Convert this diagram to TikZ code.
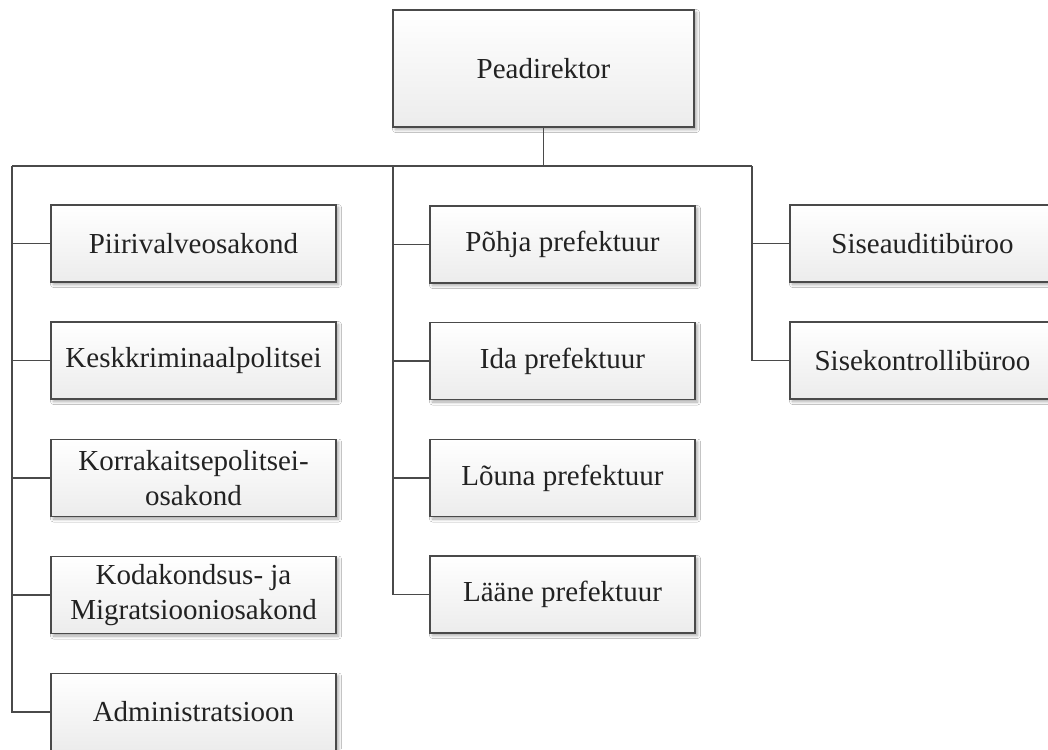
\documentclass[tikz,border=0pt]{standalone}
\usepackage{fontspec}
\setmainfont{Liberation Serif}
\usetikzlibrary{shadows.blur}
\definecolor{edge}{HTML}{4A4A4A}
\definecolor{boxlow}{HTML}{ECECEC}
\definecolor{ink}{HTML}{222222}
\tikzset{
  unit/.style={draw=edge, line width=1.4pt, top color=white, bottom color=boxlow,
    text=ink, font=\fontsize{29}{35}\selectfont, align=center,
    minimum height=77pt, inner sep=2pt,
    blur shadow={shadow xshift=2.5pt, shadow yshift=-2.5pt, shadow blur steps=6,
      shadow blur radius=3pt, shadow opacity=35}},
  leftunit/.style={unit, minimum width=285pt},
  midunit/.style={unit, minimum width=265pt},
  rightunit/.style={unit, minimum width=265pt},
  conn/.style={draw=edge, line width=1.4pt},
}
\begin{document}
\begin{tikzpicture}[x=1pt, y=-1pt]
\useasboundingbox (0,0) rectangle (1048,749);
\fill[white] (0,0) rectangle (1048,749);
\clip (0,0) rectangle (1048,749);

% head of the organisation
\node[unit, minimum width=301pt, minimum height=117pt] (pd) at (543.5,68.5) {Peadirektor};

% left column: departments
\node[leftunit] (piir) at (193.5,243.5) {Piirivalveosakond};
\node[leftunit] (kesk) at (193.5,360.5) {Keskkriminaalpolitsei};
\node[leftunit] (korr) at (193.5,478) {Korrakaitsepolitsei-\\osakond};
\node[leftunit] (koda) at (193.5,595) {Kodakondsus- ja\\Migratsiooniosakond};
\node[leftunit] (adm)  at (193.5,712) {Administratsioon};

% middle column: prefectures
\node[midunit] (pohja) at (562.5,244.5) {Põhja prefektuur};
\node[midunit] (ida)   at (562.5,361) {Ida prefektuur};
\node[midunit] (louna) at (562.5,478) {Lõuna prefektuur};
\node[midunit] (laane) at (562.5,594.5) {Lääne prefektuur};

% right column: bureaus
\node[rightunit] (audit)    at (922.5,243.5) {Siseauditibüroo};
\node[rightunit] (kontroll) at (922.5,360.5) {Sisekontrollibüroo};

% distribution bus
\coordinate (busL) at (12,166);
\coordinate (busM) at (393,166);
\coordinate (busR) at (752,166);
\coordinate (busTop) at (pd.south |- busL);

\draw[conn] (pd.south) -- (busTop);
\draw[conn] (busL) -- (busR);

\draw[conn] (busL) |- (adm.west);
\foreach \n in {piir,kesk,korr,koda}
  \draw[conn] (busL |- \n.west) -- (\n.west);

\draw[conn] (busM) |- (laane.west);
\foreach \n in {pohja,ida,louna}
  \draw[conn] (busM |- \n.west) -- (\n.west);

\draw[conn] (busR) |- (kontroll.west);
\draw[conn] (busR |- audit.west) -- (audit.west);
\end{tikzpicture}
\end{document}
